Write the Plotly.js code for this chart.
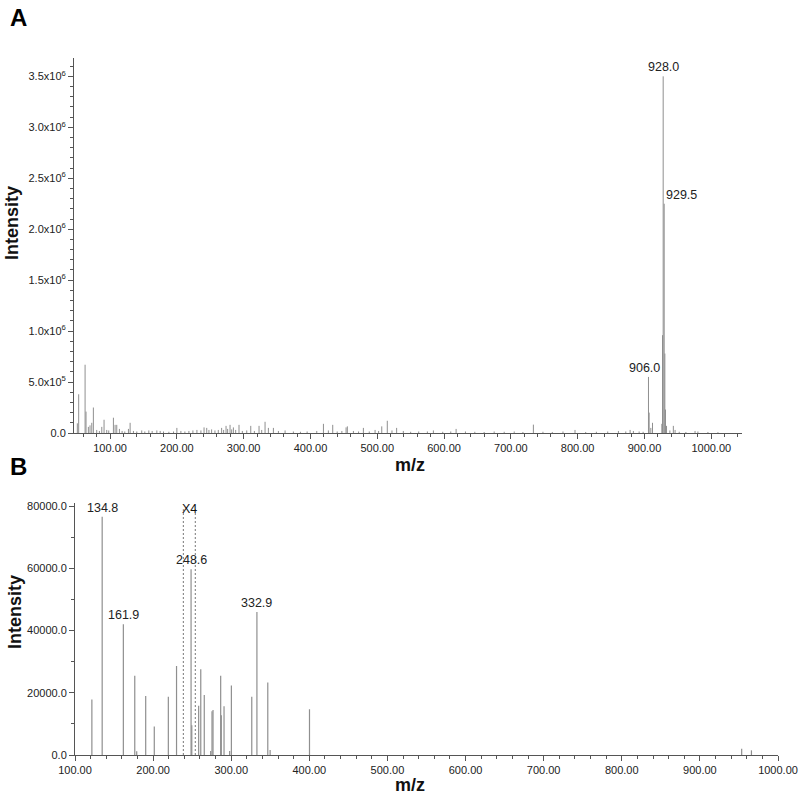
<!DOCTYPE html>
<html>
<head>
<meta charset="utf-8">
<script src="https://cdn.plot.ly/plotly-3.0.1.min.js"></script>
<style>
  html, body { margin: 0; padding: 0; background: #fff; }
  #myDiv { width: 800px; height: 799px; }
</style>
</head>
<body>
<div id="myDiv"></div>
<script>
// panel A: full scan
var aMz = [51, 53, 62.6, 64, 67.5, 70, 72.6, 75, 80, 84, 87.6, 91, 95, 98, 105, 107.5, 110, 114, 118, 122,
  127.5, 130, 135, 140, 147.4, 152, 158, 163, 170, 175, 180, 188, 195, 200, 206, 212, 218, 224, 230, 236,
  240.7, 244.7, 248, 252, 257, 262, 267, 270, 273.6, 276, 279.6, 282, 284.6, 288, 293, 298, 304.6, 310.6, 316, 323,
  327, 332, 337, 344.5, 352, 362, 374.4, 385, 395, 409.4, 419.4, 426.8, 433.3, 440, 447, 453.3, 455.2, 464.3, 472, 479.2,
  488, 496.7, 502, 506.7, 515, 522, 529, 539, 550, 562, 575, 584, 598, 610, 618, 632, 646, 660, 675, 690,
  705, 718, 733.7, 748, 762, 778, 796, 812, 828, 845, 861, 872, 878.5, 883.4, 892, 898, 906, 907, 909.5, 912,
  926, 927, 928, 929.5, 930.5, 931.5, 933, 938, 943.2, 945.8, 952, 962, 975.7, 980, 995, 1010];
var aInt = [95000, 380000, 670000, 210000, 60000, 75000, 100000, 250000, 30000, 20000, 60000, 130000, 30000, 25000, 150000, 80000, 80000, 40000, 20000, 15000,
  40000, 100000, 20000, 15000, 25000, 15000, 25000, 20000, 25000, 20000, 15000, 12000, 15000, 50000, 20000, 15000, 20000, 25000, 30000, 25000,
  55000, 50000, 30000, 35000, 25000, 30000, 50000, 30000, 70000, 40000, 80000, 35000, 55000, 30000, 80000, 20000, 25000, 70000, 20000, 70000,
  30000, 110000, 50000, 50000, 20000, 25000, 15000, 12000, 15000, 20000, 90000, 25000, 80000, 15000, 20000, 55000, 65000, 20000, 15000, 50000,
  15000, 30000, 20000, 65000, 120000, 25000, 50000, 20000, 12000, 15000, 15000, 25000, 12000, 15000, 40000, 15000, 12000, 10000, 15000, 12000,
  15000, 10000, 82000, 12000, 10000, 15000, 30000, 10000, 12000, 15000, 20000, 15000, 30000, 20000, 15000, 12000, 550000, 200000, 50000, 100000,
  90000, 960000, 3500000, 2250000, 780000, 230000, 70000, 25000, 70000, 30000, 12000, 10000, 20000, 15000, 10000, 8000];
var aLabelMz = [928.0, 929.5, 906.0];
var aYTickVals = [0, 500000, 1000000, 1500000, 2000000, 2500000, 3000000, 3500000];
var aYTickText = ["0.0", "5.0x10<sup>5</sup>", "1.0x10<sup>6</sup>", "1.5x10<sup>6</sup>", "2.0x10<sup>6</sup>",
  "2.5x10<sup>6</sup>", "3.0x10<sup>6</sup>", "3.5x10<sup>6</sup>"];

// panel B: product ion scan
var bMz = [121.6, 134.8, 161.9, 176.5, 179, 190.5, 201.5, 219.5, 230, 248.6, 249.5, 258.3, 261, 265.5, 273.7,
  275.4, 276.7, 286.5, 287.3, 290.8, 298, 300.2, 326.3, 332.9, 346.8, 349.8, 400.2, 953.5, 966];
var bInt = [17800, 76600, 42000, 25500, 1200, 19000, 9200, 18700, 28600, 59700, 9600, 15800, 27600, 19300, 1300,
  14100, 14500, 25500, 12800, 15700, 1300, 22300, 18700, 46000, 23300, 1600, 14700, 2000, 1500];
var bLabelMz = [134.8, 161.9, 248.6, 332.9];
var bZoomRange = [238.7, 254];

function sticks(mz, inten) {
  var x = [], y = [];
  for (var i = 0; i < mz.length; i++) {
    x.push(mz[i], mz[i], null);
    y.push(0, inten[i], null);
  }
  return {x: x, y: y};
}

var sa = sticks(aMz, aInt);
var sb = sticks(bMz, bInt);

var trace1 = {
  x: sa.x, y: sa.y, xaxis: "x", yaxis: "y",
  mode: "lines", type: "scatter",
  line: {color: "#8f8f8f", width: 1},
  hoverinfo: "skip"
};
var trace2 = {
  x: sb.x, y: sb.y, xaxis: "x2", yaxis: "y2",
  mode: "lines", type: "scatter",
  line: {color: "#8f8f8f", width: 1.2},
  hoverinfo: "skip"
};

var labelFont = {family: "Liberation Sans, Arial, sans-serif", size: 12.5, color: "#222"};
var annotations = [];
aLabelMz.forEach(function(m, k) {
  var h = aInt[aMz.indexOf(m)];
  annotations.push({
    x: m, y: h, xref: "x", yref: "y", text: m.toFixed(1), showarrow: false,
    xanchor: k == 1 ? "left" : (k == 2 ? "right" : "center"),
    xshift: k == 2 ? 14 : 0,
    yanchor: "bottom", yshift: 0, font: labelFont
  });
});
bLabelMz.forEach(function(m) {
  var h = bInt[bMz.indexOf(m)];
  annotations.push({
    x: m, y: h, xref: "x2", yref: "y2", text: m.toFixed(1), showarrow: false,
    xanchor: "center", yanchor: "bottom", yshift: 0, font: labelFont
  });
});
annotations.push({
  x: (bZoomRange[0] + bZoomRange[1]) / 2, y: 79000, xref: "x2", yref: "y2", text: "X4",
  showarrow: false, yanchor: "middle", font: {family: "Liberation Sans, Arial, sans-serif", size: 12.5, color: "#111"}
});

var titleFont = {family: "Liberation Sans, Arial, sans-serif", size: 18, color: "#111"};
annotations.push(
  {x: 8 / 800, y: 1 - 17 / 799, xref: "paper", yref: "paper", text: "<b>A</b>", showarrow: false,
   xanchor: "left", yanchor: "middle", font: {family: "Liberation Sans, Arial, sans-serif", size: 24, color: "#000"}},
  {x: 8 / 800, y: 1 - 466 / 799, xref: "paper", yref: "paper", text: "<b>B</b>", showarrow: false,
   xanchor: "left", yanchor: "middle", font: {family: "Liberation Sans, Arial, sans-serif", size: 24, color: "#000"}},
  {x: 12 / 800, y: 1 - 223 / 799, xref: "paper", yref: "paper", text: "<b>Intensity</b>", showarrow: false,
   textangle: -90, xanchor: "center", yanchor: "middle", font: titleFont},
  {x: 15 / 800, y: 1 - 612 / 799, xref: "paper", yref: "paper", text: "<b>Intensity</b>", showarrow: false,
   textangle: -90, xanchor: "center", yanchor: "middle", font: titleFont},
  {x: 410 / 800, y: 1 - 465 / 799, xref: "paper", yref: "paper", text: "<b>m/z</b>", showarrow: false,
   xanchor: "center", yanchor: "middle", font: titleFont},
  {x: 410 / 800, y: 1 - 785 / 799, xref: "paper", yref: "paper", text: "<b>m/z</b>", showarrow: false,
   xanchor: "center", yanchor: "middle", font: titleFont}
);

var shapes = bZoomRange.map(function(m) {
  return {type: "line", xref: "x2", yref: "y2", x0: m, x1: m, y0: 0, y1: 79000,
    line: {color: "#777", width: 1, dash: "2px,2px"}};
});

var tickFont = {family: "Liberation Sans, Arial, sans-serif", size: 11, color: "#222"};
var axisBase = {
  showline: true, linecolor: "#555", linewidth: 1, showgrid: false, zeroline: false,
  ticks: "outside", ticklen: 5, tickcolor: "#555", tickfont: tickFont, fixedrange: true
};

var layout = {
  width: 800, height: 799,
  margin: {l: 0, r: 0, t: 0, b: 0},
  paper_bgcolor: "#fff", plot_bgcolor: "#fff",
  showlegend: false, hovermode: false,
  xaxis: Object.assign({}, axisBase, {
    domain: [74 / 800, 742 / 800], range: [46, 1046], anchor: "y",
    tickmode: "linear", tick0: 0, dtick: 100, tickformat: ".2f",
    minor: {tick0: 0, dtick: 20, ticks: "outside", ticklen: 3, tickcolor: "#555"}
  }),
  yaxis: Object.assign({}, axisBase, {
    domain: [1 - 433 / 799, 1 - 58 / 799], range: [0, 3680000], anchor: "x",
    tickmode: "array", tickvals: aYTickVals, ticktext: aYTickText,
    minor: {tick0: 0, dtick: 100000, ticks: "outside", ticklen: 3, tickcolor: "#555"}
  }),
  xaxis2: Object.assign({}, axisBase, {
    domain: [75 / 800, 778 / 800], range: [100, 1000], anchor: "y2",
    tickmode: "linear", tick0: 0, dtick: 100, tickformat: ".2f",
    minor: {tick0: 0, dtick: 20, ticks: "outside", ticklen: 3, tickcolor: "#555"}
  }),
  yaxis2: Object.assign({}, axisBase, {
    domain: [1 - 755 / 799, 1 - 503 / 799], range: [0, 81000], anchor: "x2",
    tickmode: "linear", tick0: 0, dtick: 20000, tickformat: ".1f",
    minor: {tick0: 0, dtick: 10000, ticks: "outside", ticklen: 3, tickcolor: "#555"}
  }),
  annotations: annotations,
  shapes: shapes
};

Plotly.newPlot("myDiv", [trace1, trace2], layout, {displayModeBar: false, staticPlot: true});
</script>
</body>
</html>
